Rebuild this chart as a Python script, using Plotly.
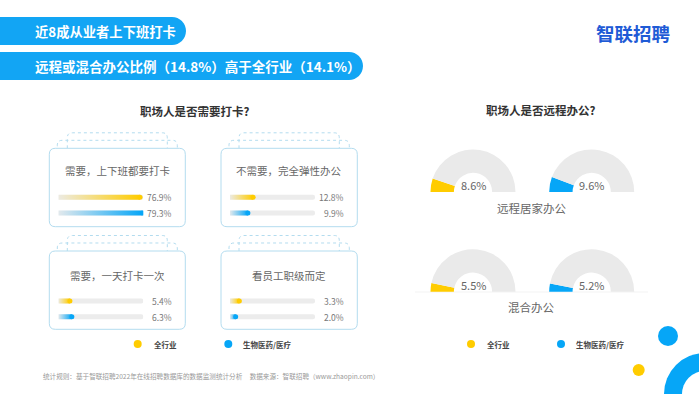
import plotly.graph_objects as go

W, H = 699, 394
FONT = "Noto Sans CJK SC"

# ---------------- data ----------------
headline_1 = "近8成从业者上下班打卡"
headline_2 = "远程或混合办公比例（14.8%）高于全行业（14.1%）"
left_title = "职场人是否需要打卡?"
right_title = "职场人是否远程办公?"
card_titles = ["需要，上下班都要打卡", "不需要，完全弹性办公", "需要，一天打卡一次", "看员工职级而定"]
series_names = ["全行业", "生物医药/医疗"]
clockin_all = [76.9, 12.8, 5.4, 3.3]
clockin_bio = [79.3, 9.9, 6.3, 2.0]
remote_labels = ["远程居家办公", "混合办公"]
remote_all = [8.6, 5.5]
remote_bio = [9.6, 5.2]
footer = "统计规则：基于智联招聘2022年在线招聘数据库的数据监测统计分析     数据来源：智联招聘（www.zhaopin.com）"

# ---------------- style ----------------
YELLOW = "#ffcc00"
BLUE = "#06a6f7"
BANNER = "#12a5f4"
TRACK = "#ececec"
CARD_LINE = "#b3dcef"
series_colors = [YELLOW, BLUE]
series_fade = ["rgba(255,204,0,0.04)", "rgba(6,166,247,0.04)"]
card_scale_max = [80, 47, 39.5, 30]   # per-card visual bar scale
gauge_max = 84


def fx(x):
    return x / W


def fy(y):
    return 1 - y / H


def pth(points):
    out = []
    for cmd, coords in points:
        if cmd == "Z":
            out.append("Z")
            continue
        cs = []
        for k in range(0, len(coords), 2):
            cs.append(f"{fx(coords[k]):.5f},{fy(coords[k+1]):.5f}")
        out.append(cmd + " ".join(cs))
    return " ".join(out)


def rrect(x0, y0, x1, y1, r):
    return pth([("M", [x0 + r, y0]), ("L", [x1 - r, y0]), ("Q", [x1, y0, x1, y0 + r]),
                ("L", [x1, y1 - r]), ("Q", [x1, y1, x1 - r, y1]), ("L", [x0 + r, y1]),
                ("Q", [x0, y1, x0, y1 - r]), ("L", [x0, y0 + r]), ("Q", [x0, y0, x0 + r, y0]), ("Z", [])])


def open_top(x0, y0, x1, yb, r):
    return pth([("M", [x0, yb]), ("L", [x0, y0 + r]), ("Q", [x0, y0, x0 + r, y0]),
                ("L", [x1 - r, y0]), ("Q", [x1, y0, x1, y0 + r]), ("L", [x1, yb])])


def pill(x0, y0, x1, y1):
    r = (y1 - y0) / 2
    ym = (y0 + y1) / 2
    k = 0.5523 * r
    return pth([("M", [x0, y0]), ("L", [x1 - r, y0]),
                ("C", [x1 - r + k, y0, x1, ym - k, x1, ym]),
                ("C", [x1, ym + k, x1 - r + k, y1, x1 - r, y1]),
                ("L", [x0, y1]), ("Z", [])])


shapes = []
annotations = []


def text(x, y, s, size, color, xanchor="center", bold=False):
    annotations.append(dict(
        x=fx(x), y=fy(y), xref="paper", yref="paper", text=f"<b>{s}</b>" if bold else s,
        showarrow=False, xanchor=xanchor, yanchor="middle",
        font=dict(family=FONT, size=size, color=color)))


def circle(cx, cy, r, color):
    shapes.append(dict(type="circle", xref="paper", yref="paper",
                       x0=fx(cx - r), x1=fx(cx + r), y0=fy(cy + r), y1=fy(cy - r),
                       fillcolor=color, line=dict(width=0), layer="below"))


# banners
shapes.append(dict(type="path", path=pill(-5, 17, 186, 45), xref="paper", yref="paper",
                   fillcolor=BANNER, line=dict(width=0), layer="below"))
shapes.append(dict(type="path", path=pill(-5, 52, 363, 80), xref="paper", yref="paper",
                   fillcolor=BANNER, line=dict(width=0), layer="below"))
text(33, 31.5, headline_1, 13.3, "white", "left", True)
text(33, 66.5, headline_2, 13.5, "white", "left", True)

# logo
text(632.5, 33, "智联招聘", 18.5, "#1f5bd6", "center", True)

# titles
text(195, 111, left_title, 11.5, "#333333", bold=True)
text(540.5, 110.5, right_title, 11.5, "#333333", bold=True)

# cards
cards = [(49.3, 148.3, 185.3, 226.7), (221, 148.3, 357.3, 226.7),
         (49.3, 251, 185.3, 329.3), (221, 251, 357.3, 329.3)]
title_off = [21.7, 21.7, 24.7, 24.7]
row_off = [49.0, 49.0, 50.0, 50.0]
row_gap = 15.7

layout_axes = {}
traces = []
for i, (x0, y0, x1, y1) in enumerate(cards):
    shapes.append(dict(type="path", path=open_top(x0 + 18, y0 - 15.5, x1 - 18, y0, 5),
                       xref="paper", yref="paper", line=dict(color=CARD_LINE, width=1, dash="dot"),
                       layer="below"))
    shapes.append(dict(type="path", path=open_top(x0 + 8, y0 - 8, x1 - 8, y0 + 4, 5),
                       xref="paper", yref="paper", line=dict(color=CARD_LINE, width=1, dash="dot"),
                       layer="below"))
    shapes.append(dict(type="path", path=rrect(x0, y0, x1, y1, 6), xref="paper", yref="paper",
                       fillcolor="white", line=dict(color=CARD_LINE, width=1), layer="below"))
    text((x0 + x1) / 2, y0 + title_off[i], card_titles[i], 10.5, "#666666")

    sfx = "" if i == 0 else str(i + 1)
    tx0, tx1 = x0 + 9, x0 + 94
    ytop = y0 + row_off[i] - row_gap * 0.5
    ybot = ytop + row_gap * 2
    layout_axes["xaxis" + sfx] = dict(domain=[fx(tx0), fx(tx1)], range=[0, card_scale_max[i]],
                                      visible=False, fixedrange=True, anchor="y" + sfx)
    layout_axes["yaxis" + sfx] = dict(domain=[fy(ybot), fy(ytop)], range=[1.5, -0.5],
                                      visible=False, fixedrange=True, anchor="x" + sfx)
    xr, yr = "x" + sfx, "y" + sfx
    vals = [clockin_all[i], clockin_bio[i]]
    M = card_scale_max[i]
    traces.append(go.Bar(x=[M, M], y=[0, 1], orientation="h", width=0.32,
                         marker=dict(color=TRACK, cornerradius=3, line=dict(width=0)),
                         xaxis=xr, yaxis=yr, hoverinfo="skip", showlegend=False))
    for r, v in enumerate(vals):
        h = 0.16
        traces.append(go.Scatter(
            x=[0, v, v, 0, 0], y=[r - h, r - h, r + h, r + h, r - h], mode="none", fill="toself",
            fillgradient=dict(type="horizontal",
                              colorscale=[[0, series_fade[r]], [1, series_colors[r]]]),
            xaxis=xr, yaxis=yr, hoverinfo="skip", showlegend=False))
        traces.append(go.Scatter(x=[v], y=[r], mode="markers",
                                 marker=dict(size=5, color=series_colors[r], line=dict(width=0)),
                                 xaxis=xr, yaxis=yr, hoverinfo="skip", showlegend=False))
        text(x0 + 125, y0 + row_off[i] + r * row_gap, f"{v:.1f}%", 8.5, "#777777", "right")

# gauges
R = 42.5
gauge_centers = [(473, 192), (591.7, 192), (473, 291.7), (591.7, 291.7)]
gauge_vals = [remote_all[0], remote_bio[0], remote_all[1], remote_bio[1]]
gauge_cols = [YELLOW, BLUE, YELLOW, BLUE]
shapes.append(dict(type="line", xref="paper", yref="paper", x0=fx(415), x1=fx(648),
                   y0=fy(292), y1=fy(292), line=dict(color="#f3f3f3", width=1), layer="below"))
for (cx, cy), v, c in zip(gauge_centers, gauge_vals, gauge_cols):
    traces.append(go.Pie(
        values=[v, gauge_max - v, gauge_max], sort=False, direction="clockwise", rotation=-90,
        hole=0.45, marker=dict(colors=[c, "#eaeaea", "rgba(0,0,0,0)"], line=dict(width=0)),
        textinfo="none", hoverinfo="skip", showlegend=False,
        domain=dict(x=[fx(cx - R), fx(cx + R)], y=[fy(cy + R), fy(cy - R)])))
    text(cx, cy - 6.5, f"{v:.1f}%", 11, "#666666")

text(531.7, 208, remote_labels[0], 11.5, "#666666")
text(531.5, 307, remote_labels[1], 11.5, "#666666")

# legends
for (dx, lx), name, col in zip([(137.7, 151.7), (228.3, 240.7)], series_names, series_colors):
    circle(dx, 344, 4, col)
    text(lx, 344, name, 7.5, "#444444", "left", True)
for (dx, lx), name, col in zip([(471, 485), (561, 574)], series_names, series_colors):
    circle(dx, 344, 4, col)
    text(lx, 344, name, 7.5, "#444444", "left", True)

# decorative circles
circle(668, 336, 10, BLUE)
circle(638.7, 370, 6, YELLOW)
circle(705, 394, 41, BLUE)
circle(705, 394, 23, "white")

# footer
text(40.7, 376, footer, 6.6, "#999999", "left")

fig = go.Figure(traces)
fig.update_layout(
    width=W, height=H, margin=dict(l=0, r=0, t=0, b=0),
    paper_bgcolor="white", plot_bgcolor="rgba(0,0,0,0)",
    showlegend=False, barmode="overlay",
    shapes=shapes, annotations=annotations,
    font=dict(family=FONT),
    **layout_axes,
)
fig.write_html("out.html", config={"displayModeBar": False},
               post_script="document.body.style.margin='0px';document.body.style.overflow='hidden';")
